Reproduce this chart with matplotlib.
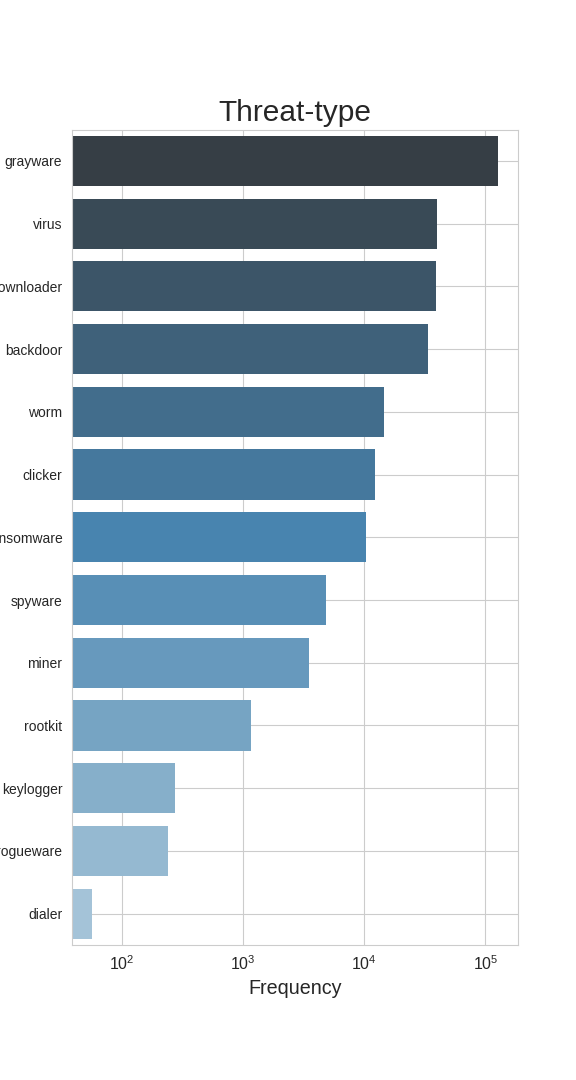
import matplotlib
matplotlib.use("Agg")
import matplotlib.pyplot as plt
import seaborn as sns

# Threat-type counts
threat_types = ["grayware", "virus", "downloader", "backdoor", "worm", "clicker",
                "ransomware", "spyware", "miner", "rootkit", "keylogger",
                "rogueware", "dialer"]
frequency = [128000, 40000, 38700, 33800, 14400, 12300,
             10400, 4850, 3510, 1160, 274, 240, 56.5]

sns.set_style("whitegrid")
plt.rcParams["font.family"] = ["Liberation Sans", "DejaVu Sans"]

# seaborn barplot style: Blues_d, dark at the top, desaturated
colors = [sns.desaturate(c, 0.75) for c in sns.color_palette("Blues_d", len(threat_types))[::-1]]

fig, ax = plt.subplots(figsize=(5.76, 10.8), dpi=100)
fig.subplots_adjust(left=0.125, right=0.9, top=0.88, bottom=0.125)

ypos = list(range(len(threat_types)))
ax.barh(ypos, frequency, height=0.8, color=colors, left=1e-3, linewidth=0)
ax.set_xscale("log")
ax.set_xlim(38.6, 187000)
ax.set_ylim(len(threat_types) - 0.5, -0.5)
ax.set_yticks(ypos)
ax.set_yticklabels(threat_types, fontsize=10)
ax.tick_params(axis="x", labelsize=11.5)
ax.set_title("Threat-type", fontsize=21.5)
ax.set_xlabel("Frequency", fontsize=14.2)
ax.set_axisbelow(True)

plt.savefig("out.png", dpi=100)
plt.close()
